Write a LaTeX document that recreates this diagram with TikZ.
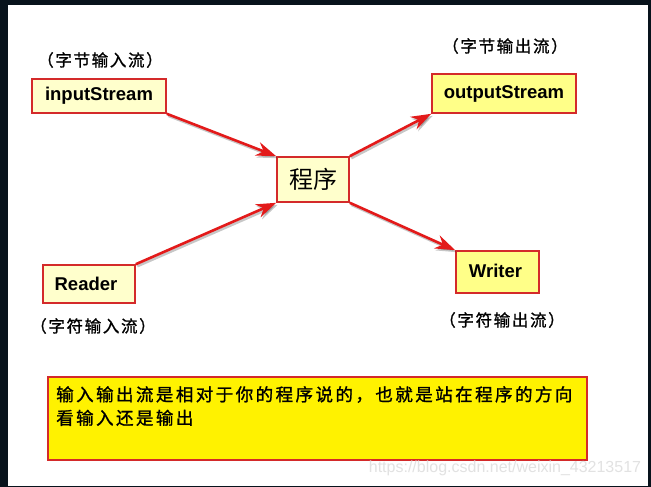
\documentclass[tikz,border=0pt]{standalone}
\usepackage{fontspec}
\setmainfont{Liberation Sans}
\newfontfamily\cjk{Noto Sans CJK SC}
\newfontfamily\cjksp{Noto Sans CJK SC}[LetterSpace=10,FakeBold=1.2]
\newfontfamily\cjkbig{Noto Sans CJK SC}[LetterSpace=14,FakeBold=1.2]
\usetikzlibrary{arrows.meta}
\definecolor{framedark}{HTML}{08131C}
\definecolor{paleyellow}{HTML}{FFFFCC}
\definecolor{midyellow}{HTML}{FFFF88}
\definecolor{boxred}{HTML}{D42A2A}
\definecolor{arrred}{HTML}{E31A1A}
\definecolor{wmgray}{HTML}{E2E2E2}
\tikzset{
  boxnode/.style={draw=boxred, line width=1.6pt, inner sep=0pt, anchor=center,
    font=\bfseries\fontsize{18.5}{20}\selectfont},
  labeltext/.style={font=\cjksp\fontsize{16.5}{18}\selectfont, inner sep=0pt},
  arr/.style={draw=arrred, line width=2.6pt, -{Stealth[length=20pt,width=14pt]}},
  arrshadow/.style={arr, draw=black, opacity=0.22, transform canvas={shift={(1.5pt,-2pt)}}},
}
\begin{document}
\begin{tikzpicture}[x=1pt,y=-1pt]
\useasboundingbox (0,0) rectangle (651,487);
\fill[framedark] (0,0) rectangle (651,487);
\fill[white] (8,5) rectangle (648,486);

% nodes
\node[boxnode, fill=paleyellow, minimum width=134pt, minimum height=34pt] (in) at (99,96) {inputStream};
\node[boxnode, fill=paleyellow, minimum width=72pt, minimum height=45pt,
      font=\cjk\fontsize{24}{26}\selectfont] (prog) at (313,179.5) {程序};
\node[boxnode, fill=midyellow, minimum width=144pt, minimum height=39pt] (out) at (504,93.5) {outputStream};
\node[boxnode, fill=paleyellow, minimum width=92pt, minimum height=38pt] (reader) at (89,284) {\hspace*{-6pt}Reader};
\node[boxnode, fill=midyellow, minimum width=83pt, minimum height=42pt] (writer) at (497.5,272) {\raisebox{3pt}{Writer}\hspace*{4pt}};

% labels
\node[labeltext] (lin) at (100,60) {（字节输入流）};
\node[labeltext] (lout) at (505,46) {（字节输出流）};
\node[labeltext] (lreader) at (93,326) {（字符输入流）};
\node[labeltext] (lwriter) at (502,320) {（字符输出流）};

% bottom note
\node[draw=boxred, line width=1.6pt, fill=yellow, minimum width=539pt, minimum height=83pt,
      inner sep=0pt] (note) at (317.5,418.5) {};
\node[anchor=north west, inner sep=0pt, align=left, font=\cjkbig\fontsize{17.5}{23.5}\selectfont]
  (notetext) at (56,386) {输入输出流是相对于你的程序说的，也就是站在程序的方向\\看输入还是输出};

% watermark
\node[text=wmgray, font=\fontsize{16}{18}\selectfont, inner sep=0pt] (wm) at (505,468)
  {https://blog.csdn.net/weixin\_43213517};

% arrows
\foreach \a/\b in {in.south east/prog.north west, reader.north east/prog.south west,
                   prog.north east/out.south west, prog.south east/writer.north west}{
  \draw[arrshadow] (\a) -- (\b);
  \draw[arr] (\a) -- (\b);
}
\end{tikzpicture}
\end{document}
